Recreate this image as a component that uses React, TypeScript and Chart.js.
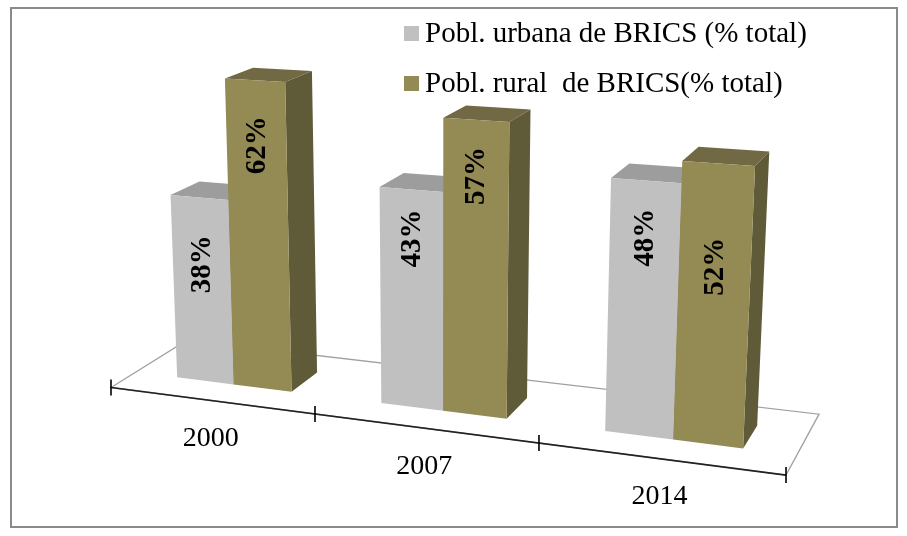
import React, { useEffect, useRef } from "react";
import { Chart, registerables } from "chart.js";

Chart.register(...registerables);

// ---------- data ----------
const categories = ["2000", "2007", "2014"];
const urbanValues = [38, 43, 48];
const ruralValues = [62, 57, 52];
const seriesNames = ["Pobl. urbana de BRICS (% total)", "Pobl. rural  de BRICS(% total)"];

// ---------- styling / layout ----------
const FONT = "'Liberation Serif', 'Times New Roman', serif";
const FACE_COLORS = [
  { front: "#c0c0c0", top: "#9d9d9d", side: "#8c8c8c", legend: "#c0c0c0" },
  { front: "#948a54", top: "#716943", side: "#5f5a37", legend: "#948a54" },
];
// perspective camera: screen = O + (X*ax + Y*ay + Z*az) / (1 + wx*X + wy*Y + wz*Z)
// X: category units, Y: value units, Z: floor depth (0 front .. 1 back)
const CAM = {
  ox: 111, oy: 387.5,
  ax: [194.9, 25.3], ay: [-0.2161, -4.737], az: [81.7, -50.8],
  wx: -0.0446, wy: -0.0006568, wz: 0.075,
};
const BAR_Z_FRONT = 0.31;
const BAR_Z_BACK = 0.69;
// how far (in value units) each data label centre sits below the bar top
const LABEL_DROP = [
  [13.6, 9.5, 10.5],
  [12.7, 10.5, 18.7],
];

function proj(X: number, Y: number, Z: number): [number, number] {
  const d = 1 + CAM.wx * X + CAM.wy * Y + CAM.wz * Z;
  return [
    CAM.ox + (X * CAM.ax[0] + Y * CAM.ay[0] + Z * CAM.az[0]) / d,
    CAM.oy + (X * CAM.ax[1] + Y * CAM.ay[1] + Z * CAM.az[1]) / d,
  ];
}

function poly(ctx: CanvasRenderingContext2D, pts: [number, number][]) {
  ctx.beginPath();
  pts.forEach((p, i) => (i === 0 ? ctx.moveTo(p[0], p[1]) : ctx.lineTo(p[0], p[1])));
  ctx.closePath();
}

const bar3dPlugin = {
  id: "bar3d",
  beforeDatasetsDraw() {
    return false;
  },
  afterDraw(chart: any) {
    const ctx: CanvasRenderingContext2D = chart.ctx;
    const xs = chart.scales.x;
    const ys = chart.scales.y;
    const labels: string[] = chart.data.labels;
    const n = labels.length;
    const catW = (xs.right - xs.left) / n;
    const unit = ys.getPixelForValue(0) - ys.getPixelForValue(1);
    const toX = (px: number) => (px - xs.left) / catW;
    const toY = (py: number) => (ys.getPixelForValue(0) - py) / unit;

    ctx.save();
    // white background + frame
    ctx.fillStyle = "#ffffff";
    ctx.fillRect(0, 0, chart.width, chart.height);
    ctx.strokeStyle = "#8a8a8a";
    ctx.lineWidth = 2;
    ctx.strokeRect(11, 8, 886, 519);

    // floor
    const f0 = proj(0, 0, 0), f1 = proj(n, 0, 0), f2 = proj(n, 0, 1), f3 = proj(0, 0, 1);
    poly(ctx, [f0, f1, f2, f3]);
    ctx.fillStyle = "#ffffff";
    ctx.fill();
    ctx.strokeStyle = "#a0a0a0";
    ctx.lineWidth = 1.3;
    ctx.stroke();
    // axis line + ticks
    ctx.beginPath();
    ctx.moveTo(f0[0], f0[1]);
    ctx.lineTo(f1[0], f1[1]);
    ctx.strokeStyle = "#222222";
    ctx.lineWidth = 1.6;
    ctx.stroke();
    for (let i = 0; i <= n; i++) {
      const p = proj(i, 0, 0);
      ctx.beginPath();
      ctx.moveTo(p[0], p[1] - 8);
      ctx.lineTo(p[0], p[1] + 8);
      ctx.strokeStyle = "#000000";
      ctx.lineWidth = 1.6;
      ctx.stroke();
    }
    // category labels
    ctx.fillStyle = "#000000";
    ctx.font = `28px ${FONT}`;
    ctx.textAlign = "center";
    ctx.textBaseline = "middle";
    for (let i = 0; i < n; i++) {
      const p = proj(toX(xs.getPixelForValue(i)), 0, 0);
      ctx.fillText(labels[i], p[0], p[1] + 38);
    }

    // bars
    const nd = chart.data.datasets.length;
    const labelJobs: { x: number; y: number; text: string }[] = [];
    for (let i = 0; i < n; i++) {
      for (let d = 0; d < nd; d++) {
        const el = chart.getDatasetMeta(d).data[i];
        const { x, y, base, width } = el.getProps(["x", "y", "base", "width"], true);
        const X0 = toX(x - width / 2);
        const X1 = toX(x + width / 2);
        const Yt = toY(y);
        const Yb = toY(base);
        const zf = BAR_Z_FRONT, zb = BAR_Z_BACK;
        const c = FACE_COLORS[d];
        // right side
        poly(ctx, [proj(X1, Yb, zf), proj(X1, Yb, zb), proj(X1, Yt, zb), proj(X1, Yt, zf)]);
        ctx.fillStyle = c.side;
        ctx.fill();
        // top
        poly(ctx, [proj(X0, Yt, zf), proj(X1, Yt, zf), proj(X1, Yt, zb), proj(X0, Yt, zb)]);
        ctx.fillStyle = c.top;
        ctx.fill();
        // front
        poly(ctx, [proj(X0, Yb, zf), proj(X1, Yb, zf), proj(X1, Yt, zf), proj(X0, Yt, zf)]);
        ctx.fillStyle = c.front;
        ctx.fill();

        const v = chart.data.datasets[d].data[i];
        const lp = proj((X0 + X1) / 2, Yt - LABEL_DROP[d][i], zf);
        labelJobs.push({ x: lp[0], y: lp[1], text: `${v}%` });
      }
    }
    // data labels (rotated)
    ctx.fillStyle = "#000000";
    ctx.font = `bold 29px ${FONT}`;
    ctx.textAlign = "center";
    ctx.textBaseline = "middle";
    labelJobs.forEach((j) => {
      ctx.save();
      ctx.translate(j.x, j.y);
      ctx.rotate(-Math.PI / 2);
      ctx.fillText(j.text, 0, 1);
      ctx.restore();
    });

    // legend
    ctx.font = `29px ${FONT}`;
    ctx.textAlign = "left";
    ctx.textBaseline = "alphabetic";
    chart.data.datasets.forEach((ds: any, k: number) => {
      const base = 42 + k * 50;
      ctx.fillStyle = FACE_COLORS[k].legend;
      ctx.fillRect(404, base - 16, 15, 15);
      ctx.fillStyle = "#000000";
      ctx.fillText(ds.label, 425, base);
    });
    ctx.restore();
  },
};

export default function App() {
  const canvasRef = useRef<HTMLCanvasElement | null>(null);

  useEffect(() => {
    if (!canvasRef.current) return;
    const chart = new Chart(canvasRef.current, {
      type: "bar",
      data: {
        labels: categories,
        datasets: [
          { label: seriesNames[0], data: urbanValues, backgroundColor: FACE_COLORS[0].front },
          { label: seriesNames[1], data: ruralValues, backgroundColor: FACE_COLORS[1].front },
        ],
      },
      options: {
        responsive: false,
        devicePixelRatio: 1,
        animation: false,
        layout: { padding: 0 },
        datasets: { bar: { categoryPercentage: 2 / 3.5, barPercentage: 1 } },
        plugins: { legend: { display: false }, tooltip: { enabled: false } },
        scales: {
          x: { type: "category", display: false, offset: true },
          y: { type: "linear", display: false, min: 0, max: 100 },
        },
      },
      plugins: [bar3dPlugin],
    } as any);
    return () => chart.destroy();
  }, []);

  return (
    <div style={{ position: "absolute", left: 0, top: 0, width: 907, height: 536 }}>
      <canvas ref={canvasRef} width={907} height={536} style={{ display: "block", width: 907, height: 536 }} />
    </div>
  );
}
